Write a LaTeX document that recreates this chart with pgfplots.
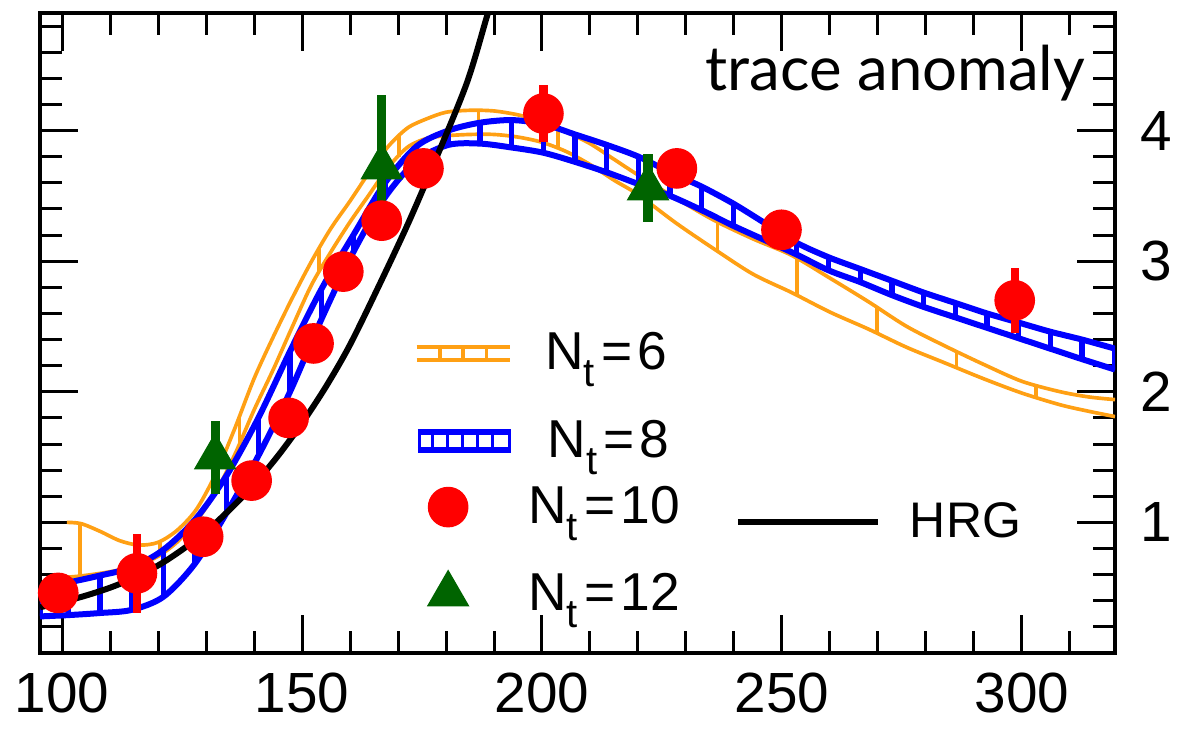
\documentclass[border=0pt]{standalone}
\usepackage{pgfplots}
\pgfplotsset{compat=1.18}
\usepackage{pgfplotstable}
\usepackage{fontspec}
\setmainfont{Liberation Sans}
\newfontfamily\titlefont{Lato}
\definecolor{orangeS}{RGB}{255,160,20}
\definecolor{blueS}{RGB}{0,0,255}
\definecolor{redS}{RGB}{255,0,0}
\definecolor{greenS}{RGB}{0,100,0}
\newcommand{\Nt}[1]{N\raisebox{-0.6ex}{\fontsize{12}{12}\selectfont t}\hspace{2pt}=\hspace{1.5pt}#1}

% N_t = 8 band (blue): lower / upper edge
\pgfplotstableread{
x lo hi
95.4 0.28 0.50
101.3 0.29 0.54
107.9 0.306 0.593
114.5 0.33 0.655
121.1 0.43 0.79
127.7 0.685 1.02
134.3 1.075 1.36
140.9 1.51 1.80
147.5 2.00 2.31
154.1 2.56 2.79
160.7 3.07 3.20
167.3 3.49 3.60
173.9 3.77 3.88
180.5 3.89 4.00
187.1 3.90 4.06
193.7 3.87 4.08
200.3 3.83 4.05
206.9 3.76 3.97
213.5 3.68 3.89
220.1 3.59 3.80
226.7 3.50 3.68
233.3 3.39 3.57
239.9 3.27 3.44
246.5 3.16 3.29
253.1 3.05 3.14
259.7 2.93 3.03
266.3 2.84 2.94
272.9 2.74 2.85
279.5 2.65 2.76
286.1 2.57 2.68
292.7 2.49 2.60
299.3 2.41 2.53
305.9 2.33 2.46
312.5 2.25 2.40
319.4 2.17 2.33
}\bandeight

% N_t = 6 band (orange): lower / upper edge
\pgfplotstableread{
x lo hi
101 0.58 1.00
104 0.59 0.99
108 0.61 0.93
112 0.636 0.86
116 0.676 0.826
120 0.74 0.847
124 0.85 0.94
128 1.01 1.10
132 1.23 1.37
136 1.52 1.72
140 1.86 2.10
144 2.17 2.42
148 2.50 2.72
152 2.82 3.00
156 3.07 3.25
160 3.30 3.46
164 3.51 3.68
168 3.72 3.88
172 3.873 4.02
176 3.94 4.09
180 3.96 4.14
185 3.97 4.155
190 3.97 4.15
195 3.95 4.12
200 3.91 4.07
205 3.84 3.99
210 3.74 3.90
215 3.62 3.78
220 3.51 3.66
228 3.29 3.48
236 3.09 3.31
244 2.90 3.17
252 2.76 3.045
260 2.61 2.87
268 2.48 2.69
276 2.34 2.50
284 2.22 2.35
292 2.10 2.21
300 1.99 2.08
308 1.90 2.00
314 1.85 1.96
319.4 1.81 1.94
}\bandsix

\pgfplotstableread{
x lo hi
103.75 0.59 0.99
120.35 0.75 0.85
136.95 1.60 1.82
153.55 2.92 3.10
170.15 3.80 3.96
186.75 3.97 4.16
203.35 3.87 4.02
219.95 3.51 3.66
236.55 3.07 3.29
253.15 2.74 3.03
269.75 2.45 2.65
286.35 2.19 2.31
302.95 1.95 2.04
}\hatchsix

\pgfplotstableread{
x y
95.4 0.35
100 0.39
105 0.44
110 0.50
114 0.56
120 0.67
125 0.79
130 0.93
135 1.10
140 1.29
145 1.51
150 1.76
155 2.04
160 2.36
166 2.81
172 3.28
177.4 3.74
184.3 4.36
188.5 4.87
190 5.05
}\hrg

\pgfplotstableread{
x y e
99.2 0.46 0.12
115.6 0.61 0.30
129.4 0.89 0.08
139.5 1.32 0.08
147.2 1.80 0.10
152.4 2.37 0.14
158.6 2.92 0.08
166.6 3.31 0.10
175.3 3.71 0.08
200.3 4.13 0.22
228.1 3.71 0.08
249.9 3.24 0.06
298.5 2.70 0.25
}\ntten

\pgfplotstableread{
x y e
131.9 1.50 0.28
166.6 3.72 0.55
222.1 3.56 0.26
}\nttwelve

\pgfplotsset{legax/.style={hide axis, scale only axis, width=322.5pt, height=192pt,
  at={(12pt,22.8pt)}, anchor=south west, xmin=95.4, xmax=319.4, ymin=0, ymax=4.9,
  legend style={draw=none, fill=none, inner sep=0pt, outer sep=0pt, anchor=west,
    font=\fontsize{16}{16}\selectfont, nodes={inner sep=0pt},
    /tikz/every odd column/.append style={column sep=10pt}}}}

\begin{document}
\begin{tikzpicture}
\useasboundingbox (0,0) rectangle (355.8pt,218.7pt);
\begin{axis}[
  scale only axis, width=322.5pt, height=192pt,
  at={(12pt,22.8pt)}, anchor=south west,
  xmin=95.4, xmax=319.4, ymin=0, ymax=4.9,
  xtick={100,150,200,250,300}, minor xtick={110,120,...,310},
  ytick={1,2,3,4}, minor ytick={0.2,0.4,...,4.8},
  tick align=inside, xtick pos=both, ytick pos=both,
  xticklabel pos=lower, yticklabel pos=right,
  major tick length=11.4pt, minor tick length=6.5pt,
  every tick/.append style={line width=0.9pt, black},
  axis line style={line width=1.2pt},
  tick label style={font=\fontsize{17}{17}\selectfont},
  /pgf/number format/assume math mode=true,
  xticklabel style={yshift=-2.4pt},
  yticklabel style={xshift=4pt},
]
% N_t=6 band
\addplot[orangeS, line width=1.1pt, smooth, forget plot] table[x=x,y=hi]{\bandsix};
\addplot[orangeS, line width=1.1pt, smooth, forget plot] table[x=x,y=lo]{\bandsix};
\addplot[draw=none, mark=none, forget plot, error bars/.cd, y dir=plus, y explicit,
  error mark=none, error bar style={orangeS, line width=1.1pt}]
  table[x=x, y=lo, y error expr=\thisrow{hi}-\thisrow{lo}]{\hatchsix};
% N_t=8 band
\addplot[draw=none, mark=none, forget plot, error bars/.cd, y dir=plus, y explicit,
  error mark=none, error bar style={blueS, line width=1.6pt}]
  table[x=x, y=lo, y error expr=\thisrow{hi}-\thisrow{lo}]{\bandeight};
\addplot[blueS, line width=1.8pt, smooth, forget plot] table[x=x,y=hi]{\bandeight};
\addplot[blueS, line width=1.8pt, smooth, forget plot] table[x=x,y=lo]{\bandeight};
% HRG
\addplot[black, line width=1.8pt, smooth, forget plot] table[x=x,y=y]{\hrg};
% N_t=10
\addplot[redS, only marks, mark=*, mark size=5.9pt, forget plot,
  error bars/.cd, y dir=both, y explicit, error mark=none,
  error bar style={redS, line width=2.5pt}]
  table[x=x, y=y, y error=e]{\ntten};
% N_t=12
\addplot[greenS, only marks, mark=triangle*, mark size=7pt, forget plot,
  error bars/.cd, y dir=both, y explicit, error mark=none,
  error bar style={greenS, line width=2.8pt}]
  table[x=x, y=y, y error=e]{\nttwelve};
\node[anchor=base east, inner sep=0pt, font=\titlefont\fontsize{18.5}{18.5}\selectfont]
  at (axis cs:313.3,4.31) {trace anomaly};
\end{axis}

% legend entries
\begin{axis}[legax, legend style={at={(axis cs:173.5,2.295)}}]
\addlegendimage{legend image code/.code={
  \draw[orangeS, line width=1.1pt] (0pt,-1.95pt) -- (28pt,-1.95pt) (0pt,1.95pt) -- (28pt,1.95pt)
   (7pt,-1.95pt) -- (7pt,1.95pt) (14pt,-1.95pt) -- (14pt,1.95pt) (21pt,-1.95pt) -- (21pt,1.95pt);}}
\addlegendentry{\Nt{6}}
\end{axis}
\begin{axis}[legax, legend style={at={(axis cs:173.5,1.622)}}]
\addlegendimage{legend image code/.code={
  \draw[blueS, line width=1.8pt] (0pt,-2.7pt) -- (28pt,-2.7pt) (0pt,2.7pt) -- (28pt,2.7pt);
  \draw[blueS, line width=1pt] (0.5pt,-2.7pt) -- (0.5pt,2.7pt) (4.5pt,-2.7pt) -- (4.5pt,2.7pt)
   (9pt,-2.7pt) -- (9pt,2.7pt) (13.5pt,-2.7pt) -- (13.5pt,2.7pt) (18pt,-2.7pt) -- (18pt,2.7pt)
   (22.5pt,-2.7pt) -- (22.5pt,2.7pt) (27.5pt,-2.7pt) -- (27.5pt,2.7pt);}}
\addlegendentry{\Nt{8}}
\end{axis}
\begin{axis}[legax, legend style={at={(axis cs:173.5,1.117)}}]
\addlegendimage{legend image code/.code={
  \path[draw=none, fill=none] (0pt,-1pt) rectangle (24pt,1pt);
  \draw[redS, fill=redS, mark=*, mark size=5.9pt, only marks] plot coordinates {(10pt,0pt)};}}
\addlegendentry{\Nt{10}}
\end{axis}
\begin{axis}[legax, legend style={at={(axis cs:173.5,0.459)}}]
\addlegendimage{legend image code/.code={
  \path[draw=none, fill=none] (0pt,-1pt) rectangle (24pt,1pt);
  \draw[greenS, fill=greenS, mark=triangle*, mark size=7pt, only marks] plot coordinates {(10pt,0pt)};}}
\addlegendentry{\Nt{12}}
\end{axis}
\begin{axis}[legax, legend style={at={(axis cs:240.2,1.0)}, font=\fontsize{15}{15}\selectfont,
   /tikz/every odd column/.append style={column sep=8.7pt}}]
\addlegendimage{legend image code/.code={
  \draw[black, line width=1.8pt] (0pt,0pt) -- (42pt,0pt);}}
\addlegendentry{HRG}
\end{axis}
\end{tikzpicture}
\end{document}
